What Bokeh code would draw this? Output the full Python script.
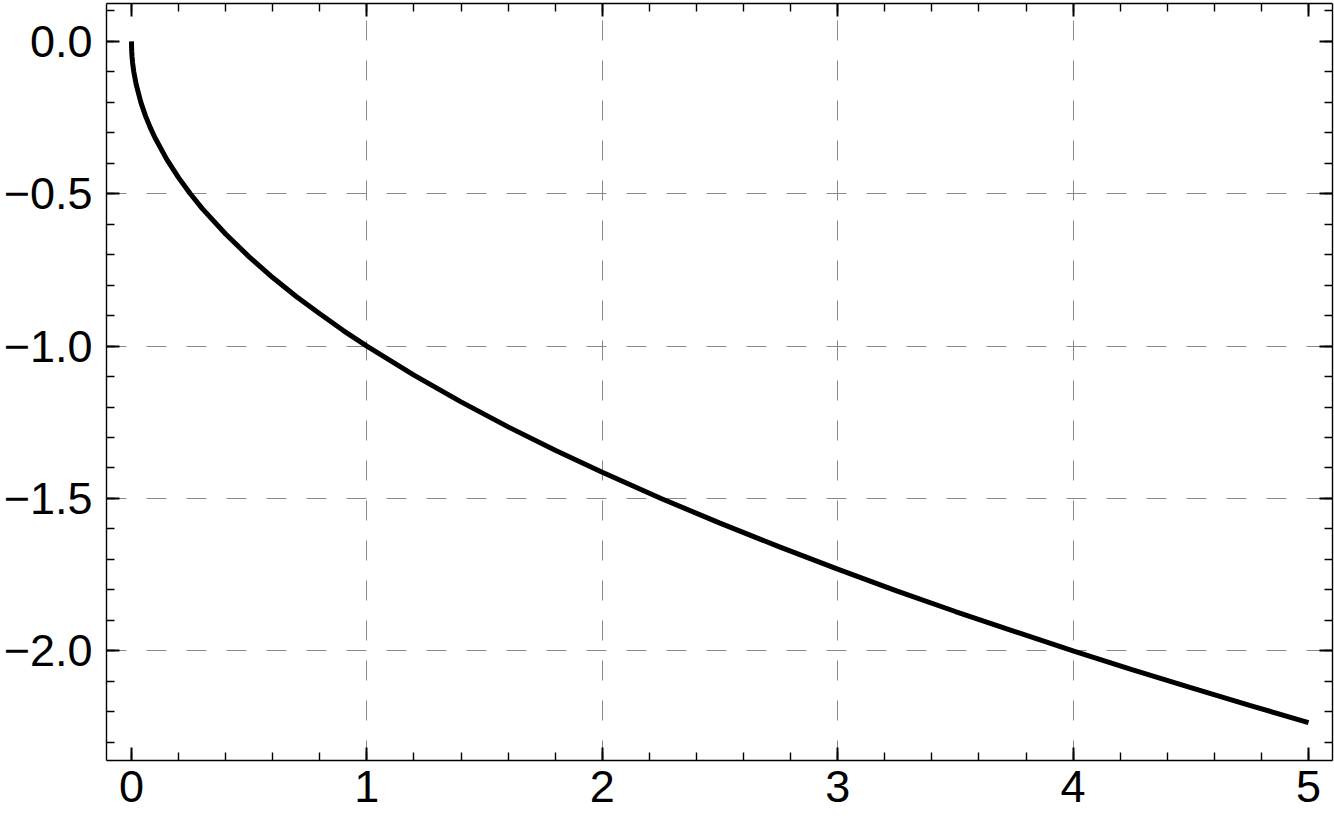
from bokeh.plotting import figure
from bokeh.models import LinearAxis, FixedTicker, CustomJSTickFormatter, Range1d
from bokeh.embed import file_html
from bokeh.resources import INLINE

# curve values
xs = [0.0, 0.001, 0.0025, 0.005, 0.01, 0.02, 0.04, 0.06, 0.08, 0.1, 0.15, 0.2, 0.25, 0.3,
      0.4, 0.5, 0.6, 0.7, 0.8, 0.9, 1.0, 1.2, 1.4, 1.6, 1.8, 2.0, 2.25, 2.5, 2.75,
      3.0, 3.25, 3.5, 3.75, 4.0, 4.25, 4.5, 4.75, 5.0]
ys = [0.0, -0.032, -0.05, -0.071, -0.1, -0.141, -0.2, -0.245, -0.283, -0.316, -0.387, -0.447, -0.5, -0.548,
      -0.632, -0.707, -0.775, -0.837, -0.894, -0.949, -1.0, -1.095, -1.183, -1.265, -1.342, -1.414, -1.5, -1.581, -1.658,
      -1.732, -1.803, -1.871, -1.936, -2.0, -2.062, -2.121, -2.179, -2.236]

x_ticks = [0, 1, 2, 3, 4, 5]
y_ticks = [0.0, -0.5, -1.0, -1.5, -2.0]
x_minor = [round(-0.2 + 0.2 * i, 2) for i in range(28)]
y_minor = [round(0.2 - 0.1 * i, 2) for i in range(28)]
x_grid = [1, 2, 3, 4]
y_grid = [-0.5, -1.0, -1.5, -2.0]

FONT = "Liberation Sans"

p = figure(width=1334, height=822, output_backend="svg", toolbar_location=None,
           x_range=Range1d(-0.106, 5.102), y_range=Range1d(-2.36, 0.1245),
           x_axis_location=None, y_axis_location=None,
           min_border_left=106, min_border_right=2, min_border_top=3, min_border_bottom=62)
p.outline_line_color = None
p.background_fill_color = "white"
p.border_fill_color = "white"

fmt_y = CustomJSTickFormatter(code="return tick.toFixed(1).replace('-', '\u2212');")
fmt_x = CustomJSTickFormatter(code="return tick.toFixed(0);")
fmt_none = CustomJSTickFormatter(code="return '';")


def style(ax, labels):
    ax.axis_line_color = "black"
    ax.axis_line_width = 1.4
    ax.major_tick_in = 13
    ax.major_tick_out = 0
    ax.minor_tick_in = 8
    ax.minor_tick_out = 0
    ax.major_tick_line_width = 2
    ax.minor_tick_line_width = 1.4
    ax.major_tick_line_color = "black"
    ax.minor_tick_line_color = "black"
    if labels:
        ax.major_label_text_font = FONT
        ax.major_label_text_font_size = "45px"
        ax.major_label_text_color = "black"
    else:
        ax.major_label_text_font_size = "0px"
        ax.major_label_standoff = 0


bx = LinearAxis(ticker=FixedTicker(ticks=x_ticks, minor_ticks=x_minor), formatter=fmt_x)
style(bx, True)
bx.major_label_standoff = 10
p.add_layout(bx, "below")

tx = LinearAxis(ticker=FixedTicker(ticks=x_ticks, minor_ticks=x_minor), formatter=fmt_none)
style(tx, False)
p.add_layout(tx, "above")

ly = LinearAxis(ticker=FixedTicker(ticks=y_ticks, minor_ticks=y_minor), formatter=fmt_y)
style(ly, True)
ly.major_label_standoff = 14
p.add_layout(ly, "left")

ry = LinearAxis(ticker=FixedTicker(ticks=y_ticks, minor_ticks=y_minor), formatter=fmt_none)
style(ry, False)
p.add_layout(ry, "right")

p.xgrid.ticker = FixedTicker(ticks=x_grid)
p.ygrid.ticker = FixedTicker(ticks=y_grid)
for g in (p.xgrid, p.ygrid):
    g.grid_line_color = "#888888"
    g.grid_line_width = 1
    g.grid_line_dash = "20 20"

p.line(xs, ys, line_color="black", line_width=5)

open("out.html", "w").write(file_html(p, INLINE))
